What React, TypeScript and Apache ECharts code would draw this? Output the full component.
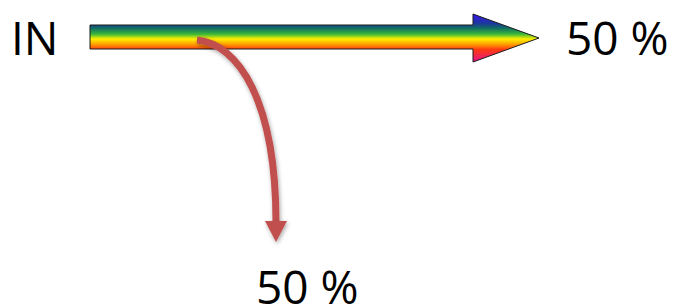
import React, { useEffect, useRef } from "react";
import * as echarts from "echarts";

const inputLabel = "IN";
const outputShares = [50, 50]; // straight-through, diverted
const shareLabels = outputShares.map((v) => `${v} %`);

const rainbowStops = [
  { offset: 0, color: "#3a12f0" },
  { offset: 0.2, color: "#1a3a9a" },
  { offset: 0.3, color: "#117060" },
  { offset: 0.42, color: "#3cb83a" },
  { offset: 0.52, color: "#fff000" },
  { offset: 0.62, color: "#ffa800" },
  { offset: 0.74, color: "#ff3a10" },
  { offset: 1, color: "#e0148c" },
];

export default function App() {
  const ref = useRef<HTMLDivElement>(null);
  useEffect(() => {
    if (!ref.current) return;
    const chart = echarts.init(ref.current, null, { renderer: "svg" });
    const red = "#c0504d";
    const shadow = {
      shadowBlur: 4,
      shadowColor: "rgba(0,0,0,0.35)",
      shadowOffsetX: 1,
      shadowOffsetY: 2,
    };
    const ts = { fontFamily: "Open Sans", fontSize: 46, fill: "#000", verticalAlign: "bottom" };
    chart.setOption({
      animation: false,
      backgroundColor: "#ffffff",
      graphic: [
        {
          type: "polygon",
          shape: {
            points: [
              [90, 25],
              [473, 25],
              [473, 14],
              [539, 38],
              [473, 62],
              [473, 49],
              [90, 49],
            ],
          },
          style: {
            fill: new echarts.graphic.LinearGradient(0, 0, 0, 1, rainbowStops),
            stroke: "#1a1a1a",
            lineWidth: 1,
          },
        },
        {
          type: "bezierCurve",
          shape: {
            x1: 197,
            y1: 40,
            cpx1: 238,
            cpy1: 44,
            cpx2: 276,
            cpy2: 100,
            x2: 276,
            y2: 223,
          },
          style: { stroke: red, lineWidth: 7, fill: "none", ...shadow },
        },
        {
          type: "polygon",
          shape: {
            points: [
              [265, 221],
              [287, 221],
              [276, 242],
            ],
          },
          style: { fill: red, ...shadow },
        },
        { type: "text", x: 11, y: 60, style: { ...ts, text: inputLabel } },
        { type: "text", x: 566, y: 60, style: { ...ts, text: shareLabels[0] } },
        { type: "text", x: 256, y: 309, style: { ...ts, text: shareLabels[1] } },
      ],
    });
    return () => chart.dispose();
  }, []);
  return (
    <div
      ref={ref}
      style={{ position: "fixed", left: 0, top: 0, width: 673, height: 304 }}
    />
  );
}
